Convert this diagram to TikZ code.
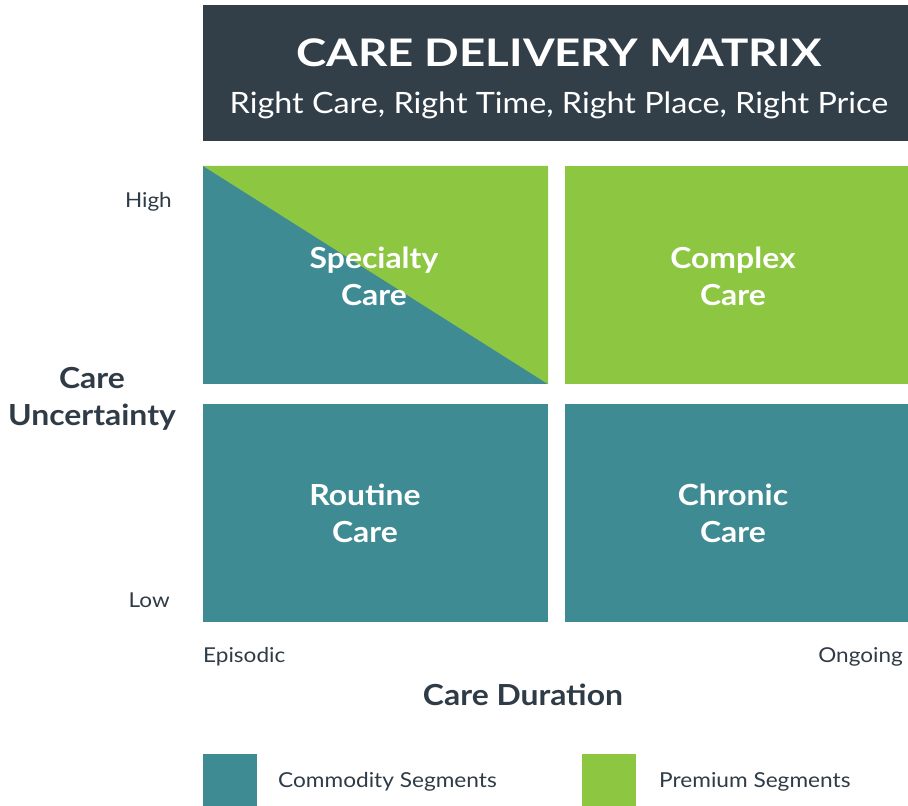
\documentclass[tikz,border=0pt]{standalone}
\usepackage{fontspec}
\setmainfont[FakeStretch=1.1]{Lato}
\newfontfamily\titlefont[FakeStretch=1.2]{Lato}
\usetikzlibrary{positioning}
\definecolor{headbg}{HTML}{323F48}
\definecolor{commodity}{HTML}{3F8B94}
\definecolor{premium}{HTML}{8DC641}
\definecolor{ink}{HTML}{2F3B46}
\tikzset{
  cell/.style={inner sep=0pt, minimum width=345pt, minimum height=218pt},
  celltext/.style={text=white, align=center, font=\bfseries\fontsize{29}{37}\selectfont},
  axistitle/.style={text=ink, align=center, font=\bfseries\fontsize{29}{37}\selectfont},
  ticktext/.style={text=ink, font=\fontsize{20.5}{24}\selectfont, inner sep=0pt},
  legendbox/.style={inner sep=0pt, minimum width=54pt, minimum height=52pt},
  legendtext/.style={text=ink, font=\fontsize{20.6}{24}\selectfont, inner sep=0pt, anchor=west}
}
\begin{document}
\begin{tikzpicture}[x=1pt, y=-1pt]
\useasboundingbox (0,0) rectangle (908,806);
% header banner
\node[fill=headbg, inner sep=0pt, minimum width=705pt, minimum height=136pt] (head) at (555.5,73) {};
\node[text=white, font=\titlefont\bfseries\fontsize{38}{44}\selectfont] (title) at (559,53) {CARE DELIVERY MATRIX};
\node[text=white, font=\fontsize{29.4}{34}\selectfont] (subtitle) at (559,105) {Right Care, Right Time, Right Place, Right Price};
% matrix cells
\node[cell, fill=commodity] (spec) at (375.5,275) {};
\fill[premium] (spec.north west) -- (spec.north east) -- (spec.south east) -- cycle;
\node[cell, fill=premium] (comp) at (737,275) {};
\node[cell, fill=commodity] (rout) at (375.5,513) {};
\node[cell, fill=commodity] (chron) at (737,513) {};
\node[celltext] (specl) at (374,276) {Specialty\\Care};
\node[celltext] (compl) at (733,276) {Complex\\Care};
\node[celltext] (routl) at (365,513) {Routine\\Care};
\node[celltext] (chronl) at (733,513) {Chronic\\Care};
% axes
\node[axistitle] (yaxis) at (92,399) {Care\\Uncertainty};
\node[ticktext, anchor=east] (high) at (172,202) {High};
\node[ticktext, anchor=east] (low) at (170,600) {Low};
\node[ticktext, anchor=west] (epi) at (203,657) {Episodic};
\node[ticktext, anchor=east] (ong) at (903,657) {Ongoing};
\node[axistitle] (xaxis) at (523,695) {Care Duration};
% legend
\node[legendbox, fill=commodity] (lgc) at (230,780) {};
\node[legendtext] (lgct) at (278,782) {Commodity Segments};
\node[legendbox, fill=premium] (lgp) at (609,780) {};
\node[legendtext] (lgpt) at (659,782) {Premium Segments};
\end{tikzpicture}
\end{document}
